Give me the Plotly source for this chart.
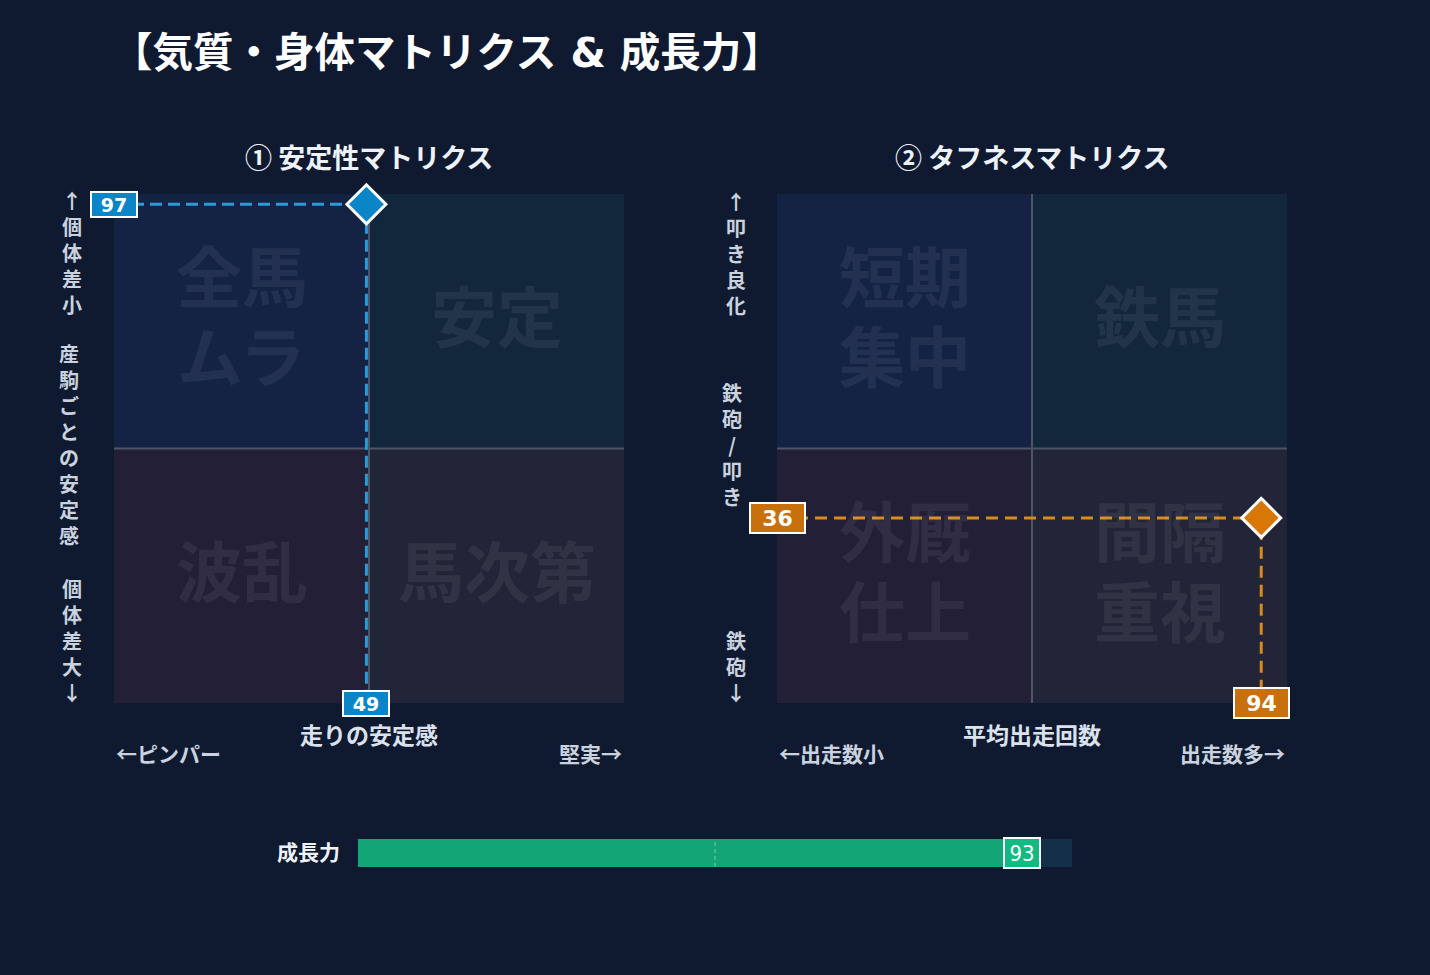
import plotly.graph_objects as go

W, H = 1430, 975

# ---------------- data ----------------
stab_x = [49]   # 走りの安定感
stab_y = [97]   # 個体差
tough_x = [94]  # 平均出走回数
tough_y = [36]  # 鉄砲/叩き
growth = [93]   # 成長力
growth_max = [100]
quad1 = [["全馬", "ムラ"], ["安定"], ["波乱"], ["馬次第"]]
quad2 = [["短期", "集中"], ["鉄馬"], ["外厩", "仕上"], ["間隔", "重視"]]
AX_MAX = 99
MID = AX_MAX / 2
quad_centers = [(MID / 2, MID * 1.5), (MID * 1.5, MID * 1.5), (MID / 2, MID / 2), (MID * 1.5, MID / 2)]

FONT = "Noto Sans CJK JP"
NUMFONT = "DejaVu Sans"
BG = "#0f1a31"
QCOL = ["#142244", "#12263c", "#221f37", "#222537"]
BLUE = "#0a86c8"
BLUE_LINE = "#2b9ad6"
ORANGE = "#c8700c"
ORANGE_LINE = "#d98a1a"
GREEN = "#13a575"
GREEN_BOX = "#12b981"


def px(x):
    return x / W


def py(y):
    return 1 - y / H


def vert(s):
    return "<br>".join(list(s))


fig = go.Figure()

L = (114, 624)
R = (777, 1287)
T, B = 194, 703
axis_common = dict(range=[0, AX_MAX], showgrid=False, zeroline=False, showticklabels=False,
                   ticks="", showline=False, fixedrange=True)
fig.update_layout(
    xaxis=dict(domain=[px(L[0]), px(L[1])], anchor="y", **axis_common),
    yaxis=dict(domain=[py(B), py(T)], anchor="x", **axis_common),
    xaxis2=dict(domain=[px(R[0]), px(R[1])], anchor="y2", **axis_common),
    yaxis2=dict(domain=[py(B), py(T)], anchor="x2", **axis_common),
    xaxis3=dict(domain=[px(358), px(1072)], anchor="y3", range=[0, 100], showgrid=False,
                zeroline=False, showticklabels=False, fixedrange=True),
    yaxis3=dict(domain=[py(867), py(839)], anchor="x3", range=[-0.5, 0.5],
                showgrid=False, zeroline=False, showticklabels=False, fixedrange=True),
)

shapes = []
annotations = []

WM_SIZE = 66
WM_GAP = 80
for (xr, yr, labels) in [("x", "y", quad1), ("x2", "y2", quad2)]:
    rects = [(0, MID, MID, AX_MAX), (MID, MID, AX_MAX, AX_MAX), (0, 0, MID, MID), (MID, 0, AX_MAX, MID)]
    for (x0, y0, x1, y1), c in zip(rects, QCOL):
        shapes.append(dict(type="rect", xref=xr, yref=yr, x0=x0, y0=y0, x1=x1, y1=y1,
                           fillcolor=c, line=dict(width=0), layer="below"))
    shapes.append(dict(type="line", xref=xr, yref=yr, x0=MID, x1=MID, y0=0, y1=AX_MAX,
                       line=dict(color="#4d5567", width=2), layer="below"))
    shapes.append(dict(type="line", xref=xr, yref=yr, x0=0, x1=AX_MAX, y0=MID, y1=MID,
                       line=dict(color="#4d5567", width=2), layer="below"))
    for (cx, cy), lines in zip(quad_centers, labels):
        n = len(lines)
        for i, t in enumerate(lines):
            off = ((n - 1) / 2 - i) * WM_GAP
            annotations.append(dict(xref=xr, yref=yr, x=cx, y=cy, text=f"<b>{t}</b>",
                                    showarrow=False, yshift=8 + off,
                                    font=dict(family=FONT, size=WM_SIZE,
                                              color="rgba(255,255,255,0.065)")))

# growth bar
fig.add_trace(go.Bar(x=growth_max, y=[0], orientation="h", xaxis="x3", yaxis="y3",
                     marker=dict(color="#142f48", line=dict(width=0)), width=1,
                     hoverinfo="skip", showlegend=False))
fig.add_trace(go.Bar(x=growth, y=[0], orientation="h", xaxis="x3", yaxis="y3",
                     marker=dict(color=GREEN, line=dict(width=0)), width=1,
                     hoverinfo="skip", showlegend=False))
shapes.append(dict(type="line", xref="x3", yref="y3", x0=50, x1=50, y0=-0.5, y1=0.5,
                   line=dict(color="rgba(220,230,240,0.55)", width=1, dash="4px,3px"), layer="above"))

# guide lines
fig.add_trace(go.Scatter(x=[0, stab_x[0], stab_x[0]], y=[stab_y[0], stab_y[0], 0],
                         mode="lines", xaxis="x", yaxis="y",
                         line=dict(color=BLUE_LINE, width=3, dash="12px,6px"),
                         hoverinfo="skip", showlegend=False))
fig.add_trace(go.Scatter(x=[0, tough_x[0], tough_x[0]], y=[tough_y[0], tough_y[0], 0],
                         mode="lines", xaxis="x2", yaxis="y2",
                         line=dict(color=ORANGE_LINE, width=3, dash="12px,7px"),
                         hoverinfo="skip", showlegend=False))
# points
fig.add_trace(go.Scatter(x=stab_x, y=stab_y, mode="markers", xaxis="x", yaxis="y",
                         marker=dict(symbol="diamond", size=30, color=BLUE,
                                     line=dict(color="white", width=3)),
                         cliponaxis=False, showlegend=False))
fig.add_trace(go.Scatter(x=tough_x, y=tough_y, mode="markers", xaxis="x2", yaxis="y2",
                         marker=dict(symbol="diamond", size=30, color="#d97706",
                                     line=dict(color="white", width=3)),
                         cliponaxis=False, showlegend=False))


def vbox(xr, yr, x, y, val, bg, size, w, h, family=NUMFONT, bold=True):
    return dict(xref=xr, yref=yr, x=x, y=y, text=f"<b>{val}</b>" if bold else f"{val}",
                showarrow=False, width=w, height=h, align="center", valign="middle",
                font=dict(family=family, size=size, color="white"),
                bgcolor=bg, bordercolor="white", borderwidth=2, borderpad=1.5,
                xanchor="center", yanchor="middle")


annotations.append(vbox("x", "y", 0, stab_y[0], stab_y[0], BLUE, 19, 41, 20))
annotations.append(vbox("x", "y", stab_x[0], 0, stab_x[0], BLUE, 19, 41, 20))
annotations.append(vbox("x2", "y2", 0, tough_y[0], tough_y[0], ORANGE, 22, 50, 25))
annotations.append(vbox("x2", "y2", tough_x[0], 0, tough_x[0], ORANGE, 22, 50, 25))
annotations.append(vbox("x3", "y3", growth[0], 0, growth[0], GREEN_BOX, 22, 31, 25,
                        family="DejaVu Sans Condensed", bold=False))


def ptxt(x, y, text, size, color, xanchor="center", bold=True, family=FONT):
    return dict(xref="paper", yref="paper", x=px(x), y=py(y),
                text=f"<b>{text}</b>" if bold else text, showarrow=False,
                xanchor=xanchor, yanchor="middle",
                font=dict(family=family, size=size, color=color))


WHITE = "#ffffff"
LBL = "#dbe2ec"
SUB = "#c9d2de"

annotations += [
    ptxt(110, 53, "【気質・身体マトリクス & 成長力】", 40.5, WHITE, "left",
         family="DejaVu Sans, Noto Sans CJK JP"),
    ptxt(369, 157, "① 安定性マトリクス", 27, "#eef2f7"),
    ptxt(1032, 157, "② タフネスマトリクス", 27, "#eef2f7"),
    ptxt(369, 734, "走りの安定感", 23, LBL),
    ptxt(114, 753, "←ピンパー", 21, SUB, "left"),
    ptxt(624, 753, "堅実→", 21, SUB, "right"),
    ptxt(1032, 734, "平均出走回数", 23, LBL),
    ptxt(777, 753, "←出走数小", 21, SUB, "left"),
    ptxt(1287, 753, "出走数多→", 21, SUB, "right"),
    ptxt(72, 252, vert("↑個体差小"), 20, SUB),
    ptxt(69, 445, vert("産駒ごとの安定感"), 20, SUB),
    ptxt(72, 640, vert("個体差大↓"), 20, SUB),
    ptxt(736, 253, vert("↑叩き良化"), 20, SUB),
    ptxt(732, 445, vert("鉄砲/叩き"), 20, SUB),
    ptxt(736, 666, vert("鉄砲↓"), 20, SUB),
    ptxt(342, 851, "成長力", 21, "#eef2f7", "right"),
]

fig.update_layout(
    width=W, height=H,
    margin=dict(l=0, r=0, t=0, b=0),
    paper_bgcolor=BG, plot_bgcolor=BG,
    barmode="overlay",
    shapes=shapes, annotations=annotations,
    showlegend=False,
    font=dict(family=FONT),
)

fig.write_html("out.html")
